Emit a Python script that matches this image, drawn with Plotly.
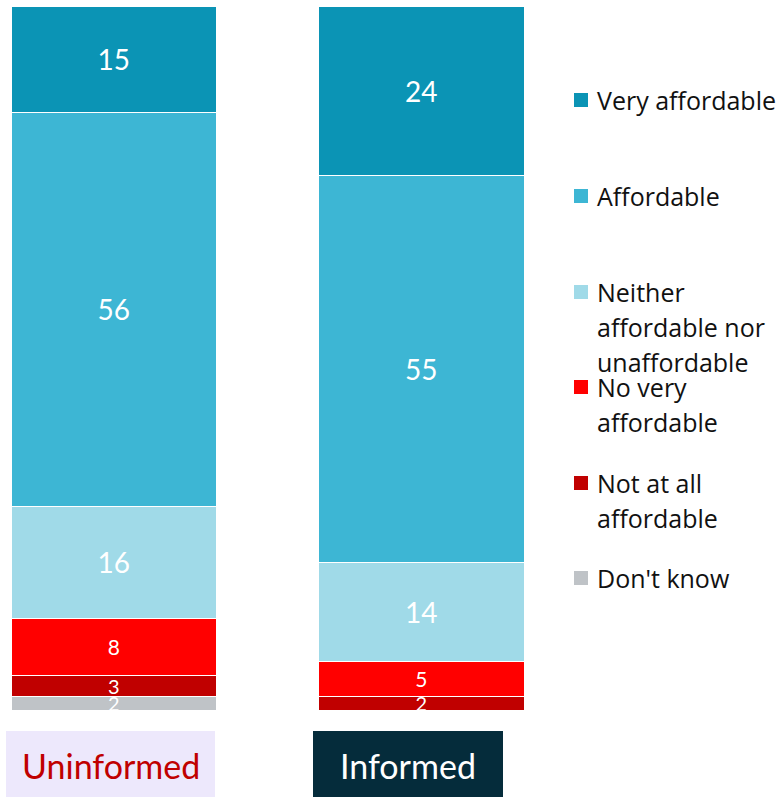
import plotly.graph_objects as go

# Survey groups and response categories
groups = ["Uninformed", "Informed"]
categories = ["Very affordable", "Affordable", "Neither affordable nor unaffordable",
              "No very affordable", "Not at all affordable", "Don't know"]
legend_lines = [["Very affordable"], ["Affordable"],
                ["Neither", "affordable nor", "unaffordable"],
                ["No very", "affordable"], ["Not at all", "affordable"], ["Don't know"]]

# Percentages per category (Uninformed, Informed)
very_affordable = [15, 24]
affordable = [56, 55]
neither = [16, 14]
not_very = [8, 5]
not_at_all = [3, 2]
dont_know = [2, 0]

series = [very_affordable, affordable, neither, not_very, not_at_all, dont_know]
colors = ["#0b94b5", "#3db6d4", "#a0dae8", "#ff0000", "#c00000", "#bfc3c7"]
label_sizes = [28, 28, 28, 21, 20, 20]

FONT = "Lato"
LEGEND_FONT = "Open Sans"
W, H = 783, 798
TOP, BOTTOM = 7, 711

fig = go.Figure()
# Stack from the bottom up so the first category sits on top
for vals, name, col, fs in reversed(list(zip(series, categories, colors, label_sizes))):
    fig.add_trace(go.Bar(
        x=[0, 1], y=vals, name=name, width=0.667,
        marker=dict(color=col, line=dict(color="white", width=1.5)),
        text=[str(v) if v > 0 else "" for v in vals],
        textposition="inside", insidetextanchor="middle",
        constraintext="none", textangle=0,
        textfont=dict(family=FONT, size=fs, color="white"),
        showlegend=False,
    ))


def px(x):
    return x / W


def py(y):
    return (BOTTOM - y) / (BOTTOM - TOP)


annotations = []
shapes = []

# Legend: coloured squares with wrapped labels
row_centers = [100, 196, 292, 387, 483, 578]
pitch = 35
for lines, col, yc in zip(legend_lines, colors, row_centers):
    shapes.append(dict(type="rect", xref="paper", yref="paper",
                       x0=px(574), x1=px(588), y0=py(yc + 7), y1=py(yc - 7),
                       fillcolor=col, line=dict(width=0)))
    for i, line in enumerate(lines):
        annotations.append(dict(x=px(595), y=py(yc + i * pitch), xref="paper", yref="paper",
                                text=line, showarrow=False, xanchor="left", yanchor="middle",
                                font=dict(family=LEGEND_FONT, size=25, color="#111111")))

# Group labels in boxes below the bars
boxes = [(6, 215, "#ede8fc", "#c00000"), (313, 503, "#052c3b", "#ffffff")]
for g, (x0, x1, fill, tcol) in zip(groups, boxes):
    shapes.append(dict(type="rect", xref="paper", yref="paper",
                       x0=px(x0), x1=px(x1), y0=py(797), y1=py(731),
                       fillcolor=fill, line=dict(width=0), layer="below"))
    annotations.append(dict(x=px((x0 + x1) / 2), y=py(765), xref="paper", yref="paper",
                            text=g, showarrow=False, xanchor="center", yanchor="middle",
                            font=dict(family=FONT, size=34, color=tcol)))

fig.update_layout(
    width=W, height=H,
    barmode="stack",
    bargap=0,
    margin=dict(l=0, r=0, t=TOP, b=H - BOTTOM, pad=0),
    paper_bgcolor="white", plot_bgcolor="white",
    xaxis=dict(range=[-114.5 / 307.5, -114.5 / 307.5 + W / 307.5], visible=False, fixedrange=True),
    yaxis=dict(range=[0, 100], visible=False, fixedrange=True),
    annotations=annotations, shapes=shapes,
    showlegend=False,
)

fig.write_html("out.html")
